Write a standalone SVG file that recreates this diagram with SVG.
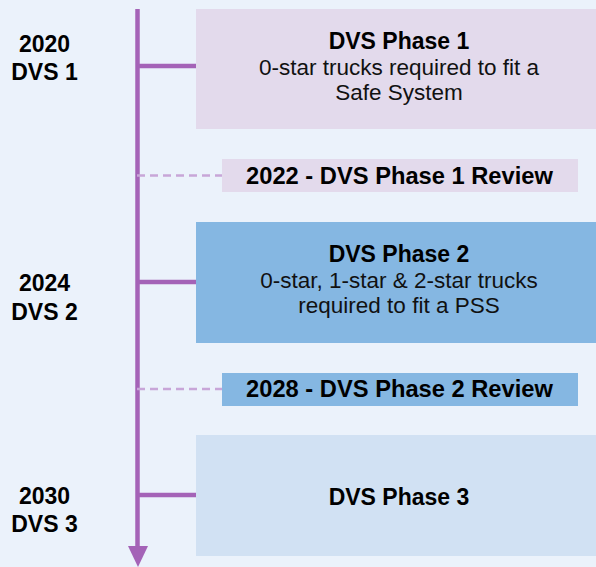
<svg xmlns="http://www.w3.org/2000/svg" width="596" height="567" viewBox="0 0 596 567">
<style>
.b{font-family:"Liberation Sans",Arial,sans-serif;font-weight:bold;font-size:23px;fill:#000;text-anchor:middle}
.rv{font-size:23.7px}
.r{font-family:"Liberation Sans",Arial,sans-serif;font-size:22.5px;fill:#111;text-anchor:middle}
.solid{stroke:#A463B7;stroke-width:4.5;fill:none}
.dash{stroke:#C8A6D8;stroke-width:2.5;stroke-dasharray:8 5;fill:none}
</style>
<rect width="596" height="567" fill="#EBF2FB"/>
<g id="labels">
<text class="b" x="44.5" y="52">2020</text>
<text class="b" x="44.5" y="80">DVS 1</text>
<text class="b" x="44.5" y="291">2024</text>
<text class="b" x="44.5" y="320">DVS 2</text>
<text class="b" x="44.5" y="504">2030</text>
<text class="b" x="44.5" y="532">DVS 3</text>
</g>
<g id="connectors">
<line class="solid" x1="137.5" y1="9" x2="137.5" y2="548"/>
<polygon points="128,546 148,546 138,567" fill="#A463B7"/>
<line class="solid" x1="137.5" y1="66" x2="196" y2="66"/>
<line class="solid" x1="137.5" y1="282" x2="196" y2="282"/>
<line class="solid" x1="137.5" y1="495" x2="196" y2="495"/>
<line class="dash" x1="137" y1="175.5" x2="222" y2="175.5"/>
<line class="dash" x1="137" y1="389" x2="222" y2="389"/>
</g>
<g id="phase1">
<rect x="196" y="9" width="400" height="120" fill="#E3DAEC"/>
<text class="b" x="399" y="49">DVS Phase 1</text>
<text class="r" x="399" y="75">0-star trucks required to fit a</text>
<text class="r" x="399" y="100">Safe System</text>
</g>
<g id="review1">
<rect x="222" y="159" width="356" height="33" fill="#E3DAEC"/>
<text class="b rv" x="399.5" y="184">2022 - DVS Phase 1 Review</text>
</g>
<g id="phase2">
<rect x="196" y="222" width="400" height="121" fill="#85B7E2"/>
<text class="b" x="399" y="262">DVS Phase 2</text>
<text class="r" x="399" y="288">0-star, 1-star &amp; 2-star trucks</text>
<text class="r" x="399" y="313">required to fit a PSS</text>
</g>
<g id="review2">
<rect x="222" y="373" width="356" height="33" fill="#85B7E2"/>
<text class="b rv" x="399.5" y="397">2028 - DVS Phase 2 Review</text>
</g>
<g id="phase3">
<rect x="196" y="435" width="400" height="121" fill="#D1E1F3"/>
<text class="b" x="399" y="505">DVS Phase 3</text>
</g>
</svg>
